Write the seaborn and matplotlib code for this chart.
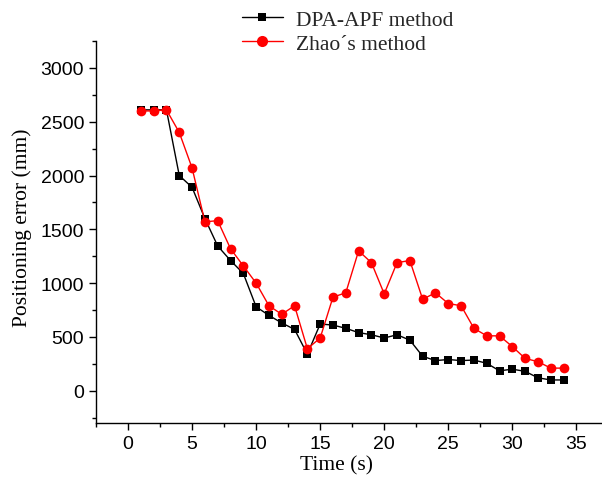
import matplotlib
matplotlib.use("Agg")
import matplotlib.pyplot as plt
import seaborn as sns
import pandas as pd
from matplotlib.ticker import MultipleLocator
from matplotlib.lines import Line2D

# data
time_s = list(range(1, 35))
dpa_apf = [2610, 2610, 2610, 2000, 1890, 1600, 1345, 1210, 1090, 780,
           700, 630, 570, 340, 620, 610, 580, 540, 520, 490,
           520, 470, 320, 280, 290, 280, 285, 255, 185, 200,
           180, 120, 100, 100]
zhao = [2600, 2600, 2610, 2400, 2070, 1570, 1580, 1320, 1160, 1000,
        790, 710, 790, 390, 490, 870, 910, 1300, 1190, 900,
        1190, 1210, 850, 910, 810, 790, 580, 510, 510, 410,
        300, 270, 210, 210]
series_names = ["DPA-APF method", "Zhao\u00b4s method"]

df = pd.concat([
    pd.DataFrame({"t": time_s, "err": dpa_apf, "method": series_names[0]}),
    pd.DataFrame({"t": time_s, "err": zhao, "method": series_names[1]}),
])

sns.set_style("ticks")
plt.rcParams["font.family"] = ["Liberation Sans", "DejaVu Sans"]

fig = plt.figure(figsize=(6.02, 4.81), dpi=100)
ax = fig.add_axes([96 / 602, 1 - 424 / 481, 1 - 96 / 602, (424 - 42) / 481])

sns.lineplot(data=df, x="t", y="err", hue="method", style="method",
             palette=["black", "red"], markers=["s", "o"], dashes=False,
             linewidth=1, markersize=6, markeredgewidth=0, ax=ax, legend=False)
# circles look a bit bigger than squares in the reference
ax.lines[1].set_markersize(7)

ax.set_xlim(-2.5, 37)
ax.set_ylim(-300, 3250)
ax.xaxis.set_major_locator(MultipleLocator(5))
ax.xaxis.set_minor_locator(MultipleLocator(2.5))
ax.yaxis.set_major_locator(MultipleLocator(500))
ax.yaxis.set_minor_locator(MultipleLocator(250))
ax.tick_params(which="both", direction="out", length=5, width=1, color="black",
               labelsize=14, labelcolor="black")
ax.tick_params(which="minor", length=3)
for s in ["top", "right"]:
    ax.spines[s].set_visible(False)
for s in ["left", "bottom"]:
    ax.spines[s].set_color("black")
    ax.spines[s].set_linewidth(1)

serif = ["Liberation Serif", "DejaVu Serif"]
ax.set_xlabel("Time (s)", fontsize=15.5, family=serif, color="black")
ax.set_ylabel("Positioning error (mm)", fontsize=15.5, family=serif, color="black")
ax.xaxis.set_label_coords((336 - 96) / (602 - 96), -0.085)
ax.yaxis.set_label_coords(-0.126, 0.515)

handles = [Line2D([], [], color="black", marker="s", markersize=6, lw=1, markeredgewidth=0),
           Line2D([], [], color="red", marker="o", markersize=8, lw=1, markeredgewidth=0)]
fig.legend(handles, series_names, loc="upper left", bbox_to_anchor=(229 / 602, 1.005),
           frameon=False, prop={"family": serif, "size": 15.5}, handlelength=1.9,
           handletextpad=0.6, labelspacing=0.2, borderaxespad=0.2)

fig.savefig("out.png", dpi=100)
